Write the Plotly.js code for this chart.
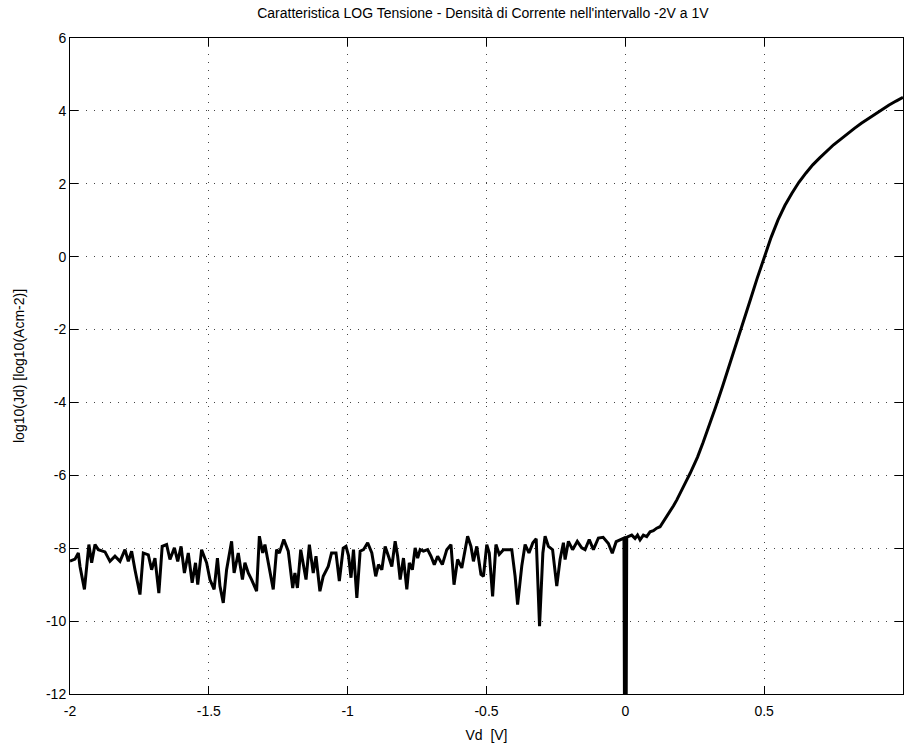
<!DOCTYPE html>
<html>
<head>
<meta charset="utf-8">
<script src="https://cdn.plot.ly/plotly-3.0.1.min.js"></script>
<style>
  html, body { margin: 0; padding: 0; background: #ffffff; }
  #plot { width: 906px; height: 749px; }
</style>
</head>
<body>
<div id="plot"></div>
<script>
// Applied voltage Vd [V], reverse bias (noisy floor) through forward bias
const vdReverse = [
  -2.000, -1.982, -1.970, -1.964, -1.948, -1.932, -1.922, -1.910, -1.898, -1.874,
  -1.856, -1.838, -1.820, -1.802, -1.790, -1.778, -1.766, -1.748, -1.736, -1.718,
  -1.706, -1.694, -1.680, -1.668, -1.652, -1.640, -1.624, -1.612, -1.600, -1.588,
  -1.574, -1.560, -1.548, -1.540, -1.526, -1.508, -1.496, -1.481, -1.469, -1.460,
  -1.448, -1.436, -1.418, -1.409, -1.394, -1.379, -1.370, -1.358, -1.346, -1.328,
  -1.318, -1.306, -1.298, -1.280, -1.268, -1.256, -1.246, -1.230, -1.214, -1.198,
  -1.190, -1.181, -1.169, -1.150, -1.138, -1.124, -1.114, -1.100, -1.088, -1.070,
  -1.058, -1.042, -1.030, -1.016, -1.006, -0.997, -0.988, -0.979, -0.967, -0.955,
  -0.943, -0.928, -0.913, -0.899, -0.889, -0.877, -0.865, -0.853, -0.841, -0.829,
  -0.820, -0.811, -0.799, -0.787, -0.778, -0.767, -0.757, -0.748, -0.739, -0.727,
  -0.712, -0.700, -0.688, -0.676, -0.659, -0.643, -0.628, -0.617, -0.604, -0.589,
  -0.577, -0.568, -0.556, -0.547, -0.535, -0.520, -0.511, -0.499, -0.490, -0.478,
  -0.466, -0.454, -0.439, -0.421, -0.409, -0.397, -0.388, -0.373, -0.361, -0.347,
  -0.333, -0.321, -0.309, -0.297, -0.289, -0.277, -0.262, -0.247, -0.235, -0.223,
  -0.217, -0.205, -0.190, -0.173, -0.157, -0.145, -0.130, -0.115, -0.097, -0.080,
  -0.061, -0.047, -0.033, -0.019, -0.010, -0.005, 0.000
];
const logJdReverse = [
  -8.35, -8.30, -8.13, -8.50, -9.13, -7.90, -8.40, -7.90, -8.04, -8.10,
  -8.36, -8.22, -8.36, -8.04, -8.36, -8.08, -8.59, -9.27, -8.13, -8.18,
  -8.59, -8.27, -9.23, -7.95, -7.90, -8.31, -7.99, -8.36, -7.95, -8.68,
  -8.13, -8.95, -8.40, -9.00, -8.04, -8.40, -8.86, -9.13, -8.27, -9.04,
  -9.50, -8.59, -7.81, -8.68, -8.13, -8.86, -8.40, -8.68, -8.86, -9.18,
  -7.67, -8.13, -7.90, -8.59, -9.13, -8.04, -8.13, -7.76, -8.08, -9.09,
  -8.68, -9.09, -8.04, -8.86, -7.90, -8.68, -8.22, -9.18, -8.77, -8.50,
  -8.13, -8.13, -8.90, -8.00, -7.95, -8.20, -8.81, -8.04, -9.36, -8.08,
  -8.04, -7.85, -8.13, -8.77, -8.45, -8.59, -7.95, -8.22, -8.50, -7.81,
  -8.22, -8.86, -8.27, -9.13, -8.40, -8.59, -7.99, -8.27, -8.04, -8.08,
  -8.04, -8.22, -8.45, -8.22, -8.45, -8.04, -7.90, -9.00, -8.31, -8.54,
  -8.04, -7.67, -7.95, -8.36, -7.95, -8.72, -8.77, -7.90, -8.13, -9.32,
  -7.90, -8.17, -8.04, -8.04, -8.04, -8.77, -9.55, -8.49, -7.90, -8.13,
  -7.85, -7.74, -10.14, -8.13, -7.67, -7.95, -8.04, -9.04, -8.31, -7.85,
  -8.31, -7.81, -8.04, -7.81, -7.99, -8.04, -7.76, -8.04, -7.72, -7.70,
  -7.87, -8.14, -7.82, -7.77, -7.73, -7.72, -20.0
];
const vdForward = [
  0.005, 0.010, 0.023, 0.035, 0.044, 0.053, 0.065, 0.077, 0.089, 0.101, 0.113,
  0.125, 0.137, 0.149, 0.161, 0.173, 0.185, 0.197, 0.209, 0.221, 0.233,
  0.245, 0.26, 0.28, 0.30, 0.325, 0.35, 0.375, 0.40, 0.425, 0.45,
  0.475, 0.50, 0.525, 0.55, 0.575, 0.60, 0.625, 0.65, 0.675, 0.70,
  0.725, 0.75, 0.775, 0.80, 0.825, 0.85, 0.875, 0.90, 0.925, 0.95,
  0.975, 1.00
];
const logJdForward = [
  -7.70, -7.68, -7.64, -7.73, -7.64, -7.77, -7.64, -7.68, -7.55, -7.52, -7.45,
  -7.41, -7.27, -7.13, -7.00, -6.84, -6.68, -6.51, -6.31, -6.13, -5.95,
  -5.76, -5.50, -5.10, -4.68, -4.13, -3.56, -2.98, -2.39, -1.79, -1.19,
  -0.59, 0.00, 0.53, 1.01, 1.41, 1.74, 2.04, 2.29, 2.52, 2.71,
  2.90, 3.07, 3.22, 3.38, 3.52, 3.66, 3.79, 3.92, 4.05, 4.16,
  4.27, 4.37
];

const vd = vdReverse.concat(vdForward);
const logJd = logJdReverse.concat(logJdForward);

const xTicks = [-2, -1.5, -1, -0.5, 0, 0.5, 1];
const xTickText = ['-2', '-1.5', '-1', '-0.5', '0', '0.5', '1'];
const yTicks = [-12, -10, -8, -6, -4, -2, 0, 2, 4, 6];
const yTickText = ['-12', '-10', '-8', '-6', '-4', '-2', '0', '2', '4', '6'];

const font = { family: 'Liberation Sans, Arial, Helvetica, sans-serif', size: 14, color: '#000' };

const axisStyle = {
  showline: true,
  linecolor: '#000',
  linewidth: 1,
  mirror: 'ticks',
  ticks: 'inside',
  ticklen: 8,
  tickcolor: '#000',
  tickwidth: 1,
  showgrid: true,
  gridcolor: '#444',
  gridwidth: 1,
  griddash: '1px,7px',
  zeroline: false,
  tickfont: font
};

const trace = {
  x: vd,
  y: logJd,
  type: 'scatter',
  mode: 'lines',
  line: { color: '#000', width: 3 },
  hoverinfo: 'x+y'
};

const layout = {
  width: 906,
  height: 749,
  margin: { l: 70, r: 3, t: 38, b: 55 },
  paper_bgcolor: '#fff',
  plot_bgcolor: '#fff',
  font: font,
  showlegend: false,
  title: {
    text: "Caratteristica LOG Tensione - Densità di Corrente nell'intervallo -2V a 1V",
    font: { family: font.family, size: 14, color: '#000' },
    x: 0.533, xanchor: 'center',
    y: 0.982, yanchor: 'middle'
  },
  xaxis: Object.assign({}, axisStyle, {
    range: [-2, 1],
    tickmode: 'array',
    tickvals: xTicks,
    ticktext: xTickText,
    ticklabelstandoff: 4,
    title: { text: 'Vd  [V]', font: font, standoff: 12 }
  }),
  yaxis: Object.assign({}, axisStyle, {
    range: [-12, 6],
    tickmode: 'array',
    tickvals: yTicks,
    ticktext: yTickText,
    title: { text: 'log10(Jd) [log10(Acm-2)]', font: font, standoff: 18 }
  })
};

Plotly.newPlot('plot', [trace], layout, { displayModeBar: false, staticPlot: true });
</script>
</body>
</html>
